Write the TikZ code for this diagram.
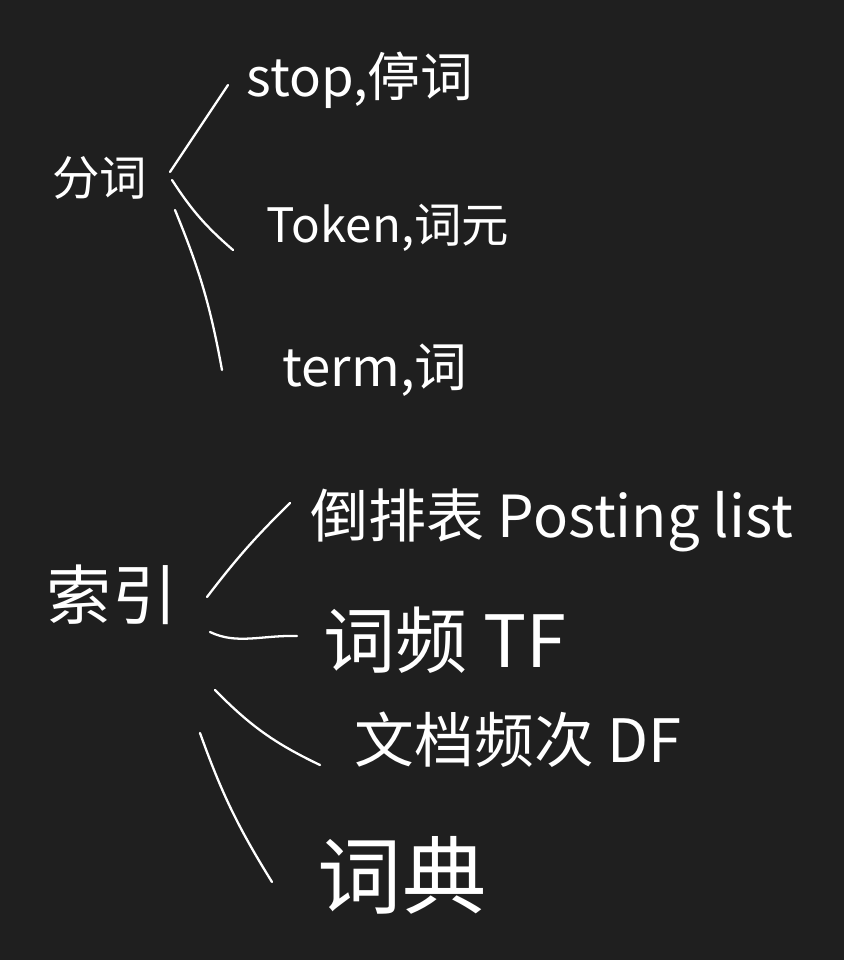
\documentclass[tikz,border=0pt]{standalone}
\usepackage{fontspec}
\newfontfamily\cjkhand{Noto Sans CJK SC}[Scale=1]
\usetikzlibrary{calc}
\definecolor{board}{RGB}{31,31,31}
\begin{document}
\begin{tikzpicture}[x=0.02cm,y=-0.02cm,line join=round,line cap=round]
\tikzset{every node/.style={text=white,inner sep=0pt}}
\tikzset{hand/.style={font=\cjkhand\fontsize{#1}{#1}\selectfont}}
\tikzset{stroke/.style={draw=white,line width=1.3pt}}
\fill[board] (0,0) rectangle (844,960);
\useasboundingbox (0,0) rectangle (844,960);
% 分词
\node[hand=27] (fenci) at (100,178) {分词};
\node[hand=30] (stop) at (360,80) {stop,停词};
\node[hand=27] (token) at (388,228) {Token,词元};
\node[hand=30] (term) at (375,370) {term,词};
\draw[stroke] ($(fenci)+(70,-6)$) -- ($(stop)+(-132,5)$);
\draw[stroke] ($(fenci)+(72,2)$) to[bend right=8] ($(token)+(-155,22)$);
\draw[stroke] ($(fenci)+(75,32)$) to[bend left=6] ($(term)+(-153,0)$);
% 索引
\node[hand=37] (suoyin) at (112,595) {索引};
\node[hand=33] (daopai) at (552,520) {倒排表 Posting list};
\node[hand=41] (cipin) at (445,640) {词频 TF};
\node[hand=34] (df) at (518,740) {文档频次 DF};
\node[hand=48] (cidian) at (402,875) {词典};
\draw[stroke] ($(suoyin)+(95,2)$) to[bend left=4] ($(daopai)+(-262,-17)$);
\draw[stroke] ($(suoyin)+(98,37)$) .. controls ($(suoyin)+(125,50)$) and ($(suoyin)+(150,40)$) .. ($(cipin)+(-148,-4)$);
\draw[stroke] ($(suoyin)+(103,95)$) to[bend right=10] ($(df)+(-198,25)$);
\draw[stroke] ($(suoyin)+(88,138)$) to[bend right=6] ($(cidian)+(-130,7)$);
\end{tikzpicture}
\end{document}
